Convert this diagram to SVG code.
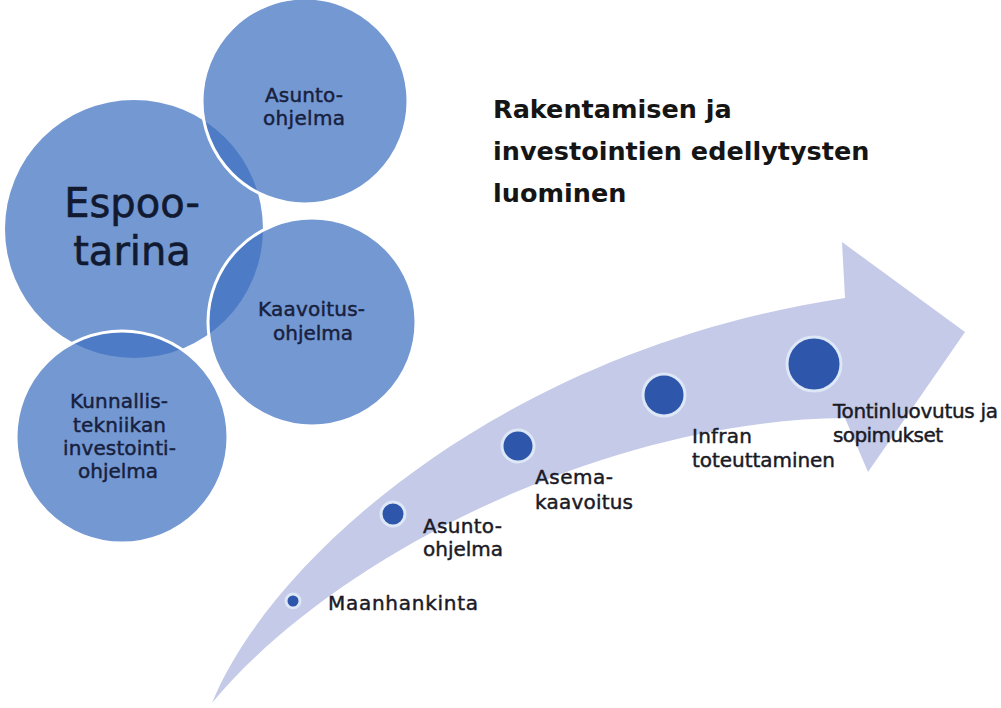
<svg xmlns="http://www.w3.org/2000/svg" width="1001" height="708" viewBox="0 0 1001 708">
  <style>
    .bub { fill: #3e70c1; fill-opacity: 0.72; stroke: #ffffff; stroke-width: 3; }
    .bub0 { fill: #3e70c1; fill-opacity: 0.72; stroke: none; }
    .ct { font-family: "DejaVu Sans", sans-serif; font-size: 20px; fill: #17203d; stroke: #17203d; stroke-width: 0.45; }
    .big { font-family: "DejaVu Sans", sans-serif; font-size: 40px; fill: #111a30; stroke: #111a30; stroke-width: 0.6; text-anchor: middle; }
    .lbl { font-family: "DejaVu Sans", sans-serif; font-size: 20px; fill: #1a1a26; stroke: #1a1a26; stroke-width: 0.45; }
    .title { font-family: "DejaVu Sans", sans-serif; font-size: 25.5px; font-weight: bold; fill: #151515; }
    .dot { fill: #2e56ab; stroke: #dde7f6; stroke-width: 3; }
  </style>
  <rect width="1001" height="708" fill="#ffffff"/>

  <g id="progress-arrow">
    <path d="M212,703 C270,560 500,350 845,298 L842,242 L965,332 L868,472 L845,418 C600,420 330,560 212,703 Z" fill="#c4cae7"/>
  </g>

  <g id="espoo-tarina">
    <circle class="bub0" cx="134" cy="229" r="129"/>
    <text class="big" x="132" y="217">Espoo-</text>
    <text class="big" x="132" y="265">tarina</text>
  </g>

  <g id="asunto-ohjelma-circle">
    <circle class="bub" cx="305" cy="101" r="103"/>
    <text class="ct" x="265" y="102" textLength="78">Asunto-</text>
    <text class="ct" x="263" y="125" textLength="82">ohjelma</text>
  </g>

  <g id="kaavoitus-ohjelma">
    <circle class="bub" cx="312" cy="322" r="104"/>
    <text class="ct" x="258" y="316" textLength="107">Kaavoitus-</text>
    <text class="ct" x="273" y="340" textLength="80">ohjelma</text>
  </g>

  <g id="kunnallistekniikan-investointiohjelma">
    <circle class="bub" cx="122" cy="437" r="106"/>
    <text class="ct" x="70" y="408" textLength="98">Kunnallis-</text>
    <text class="ct" x="73" y="432" textLength="93">tekniikan</text>
    <text class="ct" x="63" y="455" textLength="113">investointi-</text>
    <text class="ct" x="78" y="478" textLength="80">ohjelma</text>
  </g>

  <g id="title">
    <text class="title" x="493" y="118">Rakentamisen ja</text>
    <text class="title" x="493" y="160">investointien edellytysten</text>
    <text class="title" x="493" y="202">luominen</text>
  </g>

  <g id="step-maanhankinta">
    <circle class="dot" cx="293" cy="601" r="7"/>
    <text class="lbl" x="328" y="610" textLength="150">Maanhankinta</text>
  </g>

  <g id="step-asunto-ohjelma">
    <circle class="dot" cx="393" cy="514" r="12"/>
    <text class="lbl" x="423" y="533" textLength="79">Asunto-</text>
    <text class="lbl" x="423" y="556" textLength="80">ohjelma</text>
  </g>

  <g id="step-asemakaavoitus">
    <circle class="dot" cx="518" cy="446" r="16"/>
    <text class="lbl" x="535" y="484" textLength="78">Asema-</text>
    <text class="lbl" x="535" y="509" textLength="98">kaavoitus</text>
  </g>

  <g id="step-infran-toteuttaminen">
    <circle class="dot" cx="664" cy="395" r="21"/>
    <text class="lbl" x="692" y="443" textLength="60">Infran</text>
    <text class="lbl" x="692" y="467" textLength="143">toteuttaminen</text>
  </g>

  <g id="step-tontinluovutus">
    <circle class="dot" cx="814" cy="364" r="27"/>
    <text class="lbl" x="833" y="418" textLength="165">Tontinluovutus ja</text>
    <text class="lbl" x="833" y="442" textLength="110">sopimukset</text>
  </g>

  <g id="connectors"/>
</svg>
